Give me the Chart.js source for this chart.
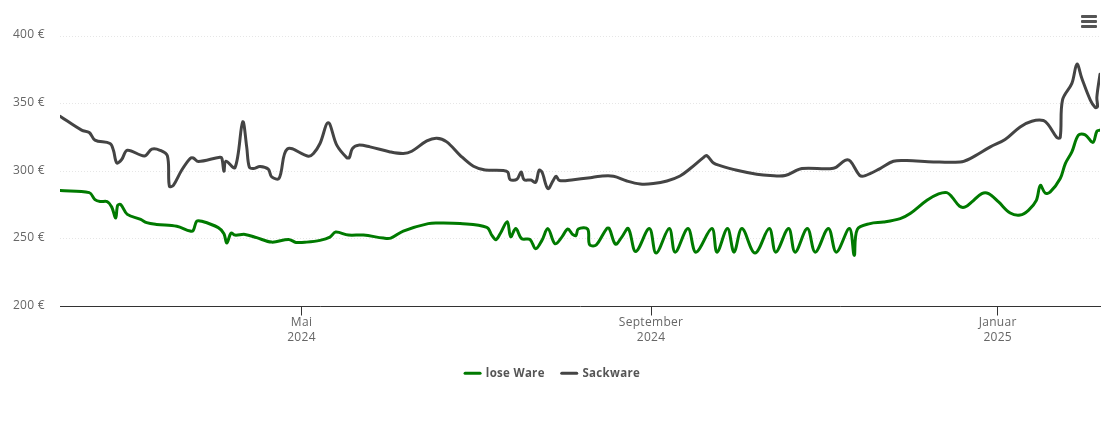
<!DOCTYPE html>
<html lang="de">
<head>
<meta charset="utf-8">
<title>Preisentwicklung</title>
<script src="https://cdn.jsdelivr.net/npm/chart.js@4"></script>
<style>
    html, body { margin: 0; padding: 0; background: #fff; }
    #wrap { position: relative; width: 1110px; height: 423px; }
    #menu { position: absolute; left: 1081px; top: 15px; width: 16px; }
    #menu i { display: block; height: 3px; margin-bottom: 2px; background: #555; border-radius: 1px; }
</style>
</head>
<body>
<div id="wrap">
    <canvas id="pricechart"></canvas>
    <div id="menu"><i></i><i></i><i></i></div>
</div>
<script>
// days counted from 6 Feb 2024
const looseDays = [0, 10.3, 12.3, 14.1, 16.6, 18.2, 19.6, 20.3, 21.4, 23.7, 28.4, 30.5, 34, 41.1, 45.8, 46.9, 48.1, 49.9, 55.7, 57.7, 58.7, 60.2, 61.6, 65.1, 69.2, 74.5, 80.4, 83.1, 86.8, 91.5, 95, 97, 101.5, 106.8, 113.8, 116.4, 120.8, 129.6, 133.8, 140.8, 150.2, 152, 153.4, 154.9, 157.4, 158.6, 160.4, 162.5, 165.4, 167.4, 169.6, 171.7, 174.2, 176.6, 178.7, 180.5, 181.6, 182.4, 185.7, 186.3, 188.3, 189.5, 192.4, 193.3, 195.5, 197.7, 200, 202.6, 207.4, 209.8, 214.4, 216.5, 221, 223.8, 229.4, 231.2, 234.9, 237.2, 240, 244.6, 249.6, 251.9, 256.4, 258.7, 263, 265.8, 270.4, 273.2, 277.8, 279.5, 280.6, 285.1, 289.8, 295.7, 299.2, 305.1, 309.2, 312.1, 313.9, 316.6, 318.6, 320.9, 324.4, 326.8, 330.3, 334.4, 337.9, 340.8, 343.6, 345, 346.7, 348.5, 352, 353.8, 356.1, 358.4, 360.8, 363.5, 364.9, 366];
const loosePrices = [285.7, 284.2, 279, 277.6, 277.6, 273.6, 265.4, 274.8, 275.3, 268.1, 264.4, 262, 260.7, 259.3, 255.8, 256.3, 263, 263, 258.3, 253.8, 246.9, 254.3, 252.8, 253.3, 250.9, 247.6, 249.6, 247.4, 247.6, 248.9, 251.3, 255, 252.8, 252.8, 250.6, 250.6, 255.8, 261.3, 261.7, 261.3, 258.5, 252.6, 249.4, 253.8, 262.7, 251.6, 257.6, 250.1, 249.6, 242.7, 248.9, 257.6, 246.4, 251.3, 257.3, 253.1, 252.6, 257.3, 257.3, 245.9, 245, 247.6, 257.6, 257.6, 246.1, 251.3, 257.6, 240.7, 257.6, 239.5, 257.6, 240.2, 257.6, 240.2, 257.6, 240.2, 257.6, 240.2, 257.6, 239.5, 257.6, 240.2, 257.6, 240.2, 257.6, 240.2, 257.6, 240.2, 257.6, 237.8, 257, 261.3, 262.4, 265, 268.7, 278.5, 283.2, 284.2, 281, 274.1, 273.6, 277.3, 283.5, 283.5, 277.3, 269.1, 267.6, 271.1, 278.5, 289.6, 283.9, 284.7, 294.6, 305.7, 314.3, 326.7, 326.9, 321.3, 329.6, 330.4];
const sackDays = [0, 7.6, 10.3, 12.3, 17.6, 18.8, 20, 21.7, 23.7, 29.7, 32.3, 35.2, 37.8, 38.5, 39.9, 42.8, 45.8, 46.9, 48.7, 56.3, 57, 57.7, 58.4, 61.6, 64.3, 65.7, 66.6, 68, 70.4, 73.3, 74.5, 77.1, 80, 87.4, 89.2, 91.5, 94.4, 97.4, 100.9, 101.8, 102.9, 105, 109.1, 116.2, 120.8, 123.8, 129.1, 132.6, 136.1, 140.8, 145.5, 149.6, 156, 157.6, 158.4, 160.8, 162.3, 163.3, 165.7, 167.4, 168.6, 169.6, 171.7, 173.6, 174.6, 175.8, 180.7, 186.6, 190.1, 194.8, 199.5, 204.2, 208.8, 213.6, 218.2, 221.8, 226.4, 227.6, 230, 232.3, 238.2, 245.2, 249.9, 255.2, 261.1, 272.2, 276.3, 278.1, 281.4, 283.4, 288.6, 293.3, 298, 307.4, 316.8, 320.3, 327.4, 332.6, 337.9, 342, 346.1, 347.9, 350.8, 352, 352.8, 356.1, 357.9, 359.6, 362.6, 364.3, 365.1, 364.9, 366];
const sackPrices = [340.7, 330.4, 328.7, 323, 320.5, 315.5, 306.1, 308.7, 315.5, 311.3, 316.3, 315.5, 311.3, 288.9, 289.6, 300.7, 309.4, 309.8, 307.2, 310.4, 309.4, 300, 307.4, 302.7, 336.5, 318, 303.2, 302, 303.5, 301.5, 295.8, 294.8, 316.5, 311.1, 313.1, 320.5, 335.8, 319.3, 310.1, 310.1, 316.8, 319.3, 318, 314.3, 313.1, 314.8, 322.4, 324.4, 321.7, 311.8, 303.7, 301, 300.5, 299.3, 293.8, 294.1, 299.5, 293.8, 293.5, 291.8, 300.7, 299.5, 287.2, 293.3, 296.3, 293.1, 293.8, 295.2, 296.3, 296.3, 292.8, 290.6, 290.9, 292.8, 296.5, 302, 310.1, 311.6, 306.1, 304.2, 300.7, 297.8, 296.8, 296.8, 302, 302.2, 308.1, 307.6, 297, 296.8, 302, 307.4, 307.9, 306.9, 306.9, 309.4, 318, 323.5, 332.8, 337, 337.5, 334.1, 325, 325, 352.6, 365, 379.2, 368.7, 352.6, 347.2, 347.6, 354.8, 371.8];
const tickDays = [85, 208, 330];
const tickLabels = [['Mai', '2024'], ['September', '2024'], ['Januar', '2025']];

function toPoints(days, prices) {
    return days.map((d, i) => ({ x: d, y: prices[i] }));
}

const canvas = document.getElementById('pricechart');
canvas.width = 1110;
canvas.height = 423;

const textFont = '"Open Sans", sans-serif';

new Chart(canvas, {
    type: 'line',
    data: {
        datasets: [{
            label: 'lose Ware',
            data: toPoints(looseDays, loosePrices),
            borderColor: '#007a00',
            backgroundColor: '#007a00',
            borderWidth: 3,
        }, {
            label: 'Sackware',
            data: toPoints(sackDays, sackPrices),
            borderColor: '#444444',
            backgroundColor: '#444444',
            borderWidth: 3,
        }]
    },
    options: {
        responsive: false,
        animation: false,
        parsing: false,
        normalized: false,
        layout: { padding: { left: 0, right: 10, top: 36, bottom: 34 } },
        elements: {
            point: { radius: 0 },
            line: { tension: 0.35, borderCapStyle: 'round', borderJoinStyle: 'round' }
        },
        scales: {
            x: {
                type: 'linear',
                min: 0,
                max: 366,
                afterBuildTicks: (scale) => { scale.ticks = tickDays.map(d => ({ value: d })); },
                afterFit: (scale) => { scale.height = 44; },
                border: { color: '#333333', width: 1 },
                grid: { drawOnChartArea: false, tickLength: 9, tickColor: '#333333', tickWidth: 1 },
                ticks: {
                    autoSkip: false,
                    maxRotation: 0,
                    padding: 0,
                    color: '#666666',
                    font: { family: textFont, size: 12, lineHeight: 1.25 },
                    callback: (value) => tickLabels[tickDays.indexOf(value)]
                }
            },
            y: {
                min: 200,
                max: 400,
                afterFit: (scale) => { scale.width = 60; },
                border: { display: false, dash: [1, 2] },
                grid: { color: '#e6e6e6', drawTicks: false },
                ticks: {
                    stepSize: 50,
                    padding: 15,
                    labelOffset: -1,
                    color: '#666666',
                    font: { family: textFont, size: 12 },
                    callback: (value) => `${value} €`
                }
            }
        },
        plugins: {
            tooltip: { enabled: false },
            legend: {
                position: 'bottom',
                labels: {
                    usePointStyle: true,
                    pointStyle: 'line',
                    pointStyleWidth: 15,
                    boxHeight: 8,
                    padding: 17,
                    color: '#555555',
                    font: { family: textFont, size: 11.5, weight: 'bold' },
                    generateLabels: (chart) => Chart.defaults.plugins.legend.labels.generateLabels(chart)
                        .map(item => ({ ...item, lineWidth: 3, lineCap: 'round' }))
                }
            }
        }
    },
    plugins: [{
        // slightly wider letters, as in the original
        id: 'letterSpacing',
        beforeDraw: (chart) => { chart.ctx.letterSpacing = '0.3px'; }
    }]
});
</script>
</body>
</html>
